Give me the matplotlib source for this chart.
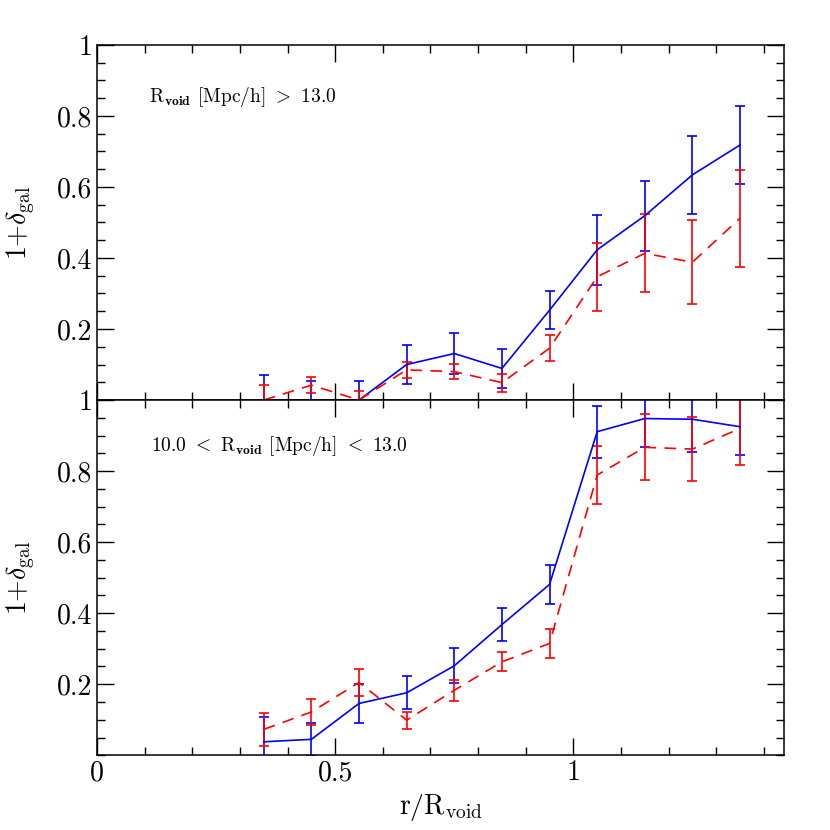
import matplotlib
matplotlib.use("Agg")
import matplotlib.pyplot as plt
from matplotlib.ticker import FixedLocator, MultipleLocator, NullFormatter

plt.rcParams['font.family'] = 'serif'
plt.rcParams['font.serif'] = ['cmr10', 'DejaVu Serif']
plt.rcParams['mathtext.fontset'] = 'cm'
plt.rcParams['axes.formatter.use_mathtext'] = True

r_bins = [0.35, 0.45, 0.55, 0.65, 0.75, 0.85, 0.95, 1.05, 1.15, 1.25, 1.35]

# top panel: R_void > 13
top_blue = [0.0, 0.0, 0.0, 0.10, 0.131, 0.089, 0.253, 0.423, 0.519, 0.634, 0.718]
top_blue_err = [0.07, 0.055, 0.053, 0.056, 0.059, 0.054, 0.053, 0.098, 0.098, 0.109, 0.109]
top_red = [0.0, 0.042, 0.0, 0.085, 0.08, 0.049, 0.146, 0.347, 0.413, 0.388, 0.512]
top_red_err = [0.042, 0.023, 0.025, 0.022, 0.021, 0.025, 0.037, 0.095, 0.11, 0.118, 0.137]

# bottom panel: 10 < R_void < 13
bot_blue = [0.038, 0.045, 0.146, 0.176, 0.252, 0.368, 0.481, 0.911, 0.948, 0.946, 0.925]
bot_blue_err = [0.07, 0.047, 0.056, 0.047, 0.049, 0.047, 0.056, 0.073, 0.081, 0.092, 0.081]
bot_red = [0.073, 0.122, 0.205, 0.099, 0.183, 0.263, 0.315, 0.789, 0.867, 0.862, 0.92]
bot_red_err = [0.046, 0.036, 0.038, 0.024, 0.03, 0.027, 0.041, 0.082, 0.093, 0.089, 0.104]

y_ticks = [0.2, 0.4, 0.6, 0.8, 1.0]
y_ticklabels = ['0.2', '0.4', '0.6', '0.8', '1']
x_ticks = [0, 0.5, 1]
x_ticklabels = ['0', '0.5', '1']

labels = [r'$\mathrm{R}_{\mathbf{void}}$ [Mpc/h] $>$ 13.0',
          r'10.0 $<$ $\mathrm{R}_{\mathbf{void}}$ [Mpc/h] $<$ 13.0']

fig = plt.figure(figsize=(8.3, 8.3), dpi=100)
left, right = 0.117, 0.945
ax_top = fig.add_axes([left, 0.518, right - left, 0.428])
ax_bot = fig.add_axes([left, 0.090, right - left, 0.428])

panels = [
    (ax_top, top_blue, top_blue_err, top_red, top_red_err, labels[0], (0.075, 0.853)),
    (ax_bot, bot_blue, bot_blue_err, bot_red, bot_red_err, labels[1], (0.078, 0.87)),
]

for ax, b, be, rd, re, lab, pos in panels:
    ax.errorbar(r_bins, b, yerr=be, color='blue', lw=1.2, elinewidth=1.2,
                capsize=3.5, capthick=1.2)
    ax.errorbar(r_bins, rd, yerr=re, color='red', lw=1.2, elinewidth=1.2,
                capsize=3.5, capthick=1.2, ls=(0, (7, 5)))
    ax.set_xlim(0, 1.443)
    ax.set_ylim(0, 1)
    ax.yaxis.set_major_locator(FixedLocator(y_ticks))
    ax.set_yticklabels(y_ticklabels)
    ax.yaxis.set_minor_locator(MultipleLocator(0.05))
    ax.xaxis.set_major_locator(FixedLocator(x_ticks))
    ax.xaxis.set_minor_locator(MultipleLocator(0.1))
    ax.tick_params(which='both', direction='in', top=True, right=True, labelsize=20)
    ax.tick_params(which='major', length=12, width=1)
    ax.tick_params(which='minor', length=6, width=1)
    for sp in ax.spines.values():
        sp.set_linewidth(1.1)
    ax.set_ylabel(r'$1{+}\delta_{\rm gal}$', fontsize=20, labelpad=14)
    ax.text(pos[0], pos[1], lab, transform=ax.transAxes, fontsize=14,
            ha='left', va='center')

ax_top.xaxis.set_major_formatter(NullFormatter())
ax_bot.set_xticklabels(x_ticklabels)
ax_bot.set_xlabel(r'$\mathrm{r/R_{void}}$', fontsize=20)

fig.savefig('out.png', dpi=100)
